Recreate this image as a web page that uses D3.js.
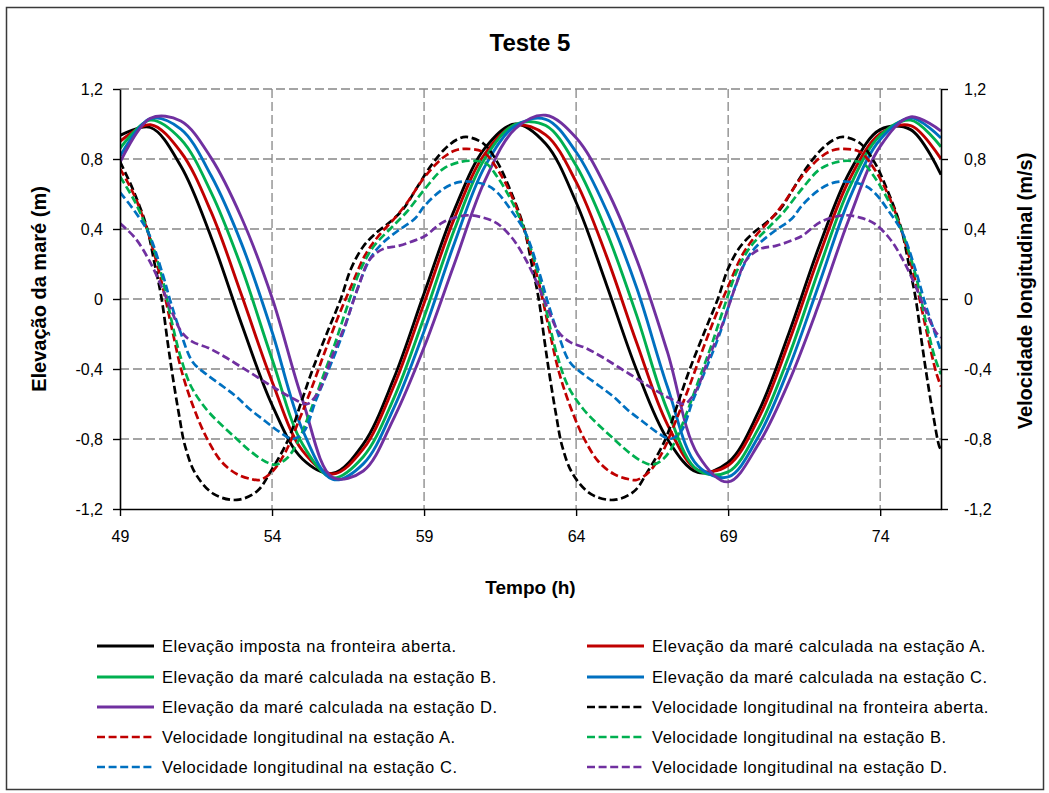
<!DOCTYPE html>
<html>
<head>
<meta charset="utf-8">
<script src="https://cdn.jsdelivr.net/npm/d3@7"></script>
<style>
  body { margin: 0; background: #ffffff; }
  svg text { font-family: "Liberation Sans", Arial, sans-serif; fill: #000; }
</style>
</head>
<body>
<svg id="chart" width="1049" height="793"></svg>
<script>
// ---- Elevação da maré (m), eixo esquerdo: uma leitura por hora ----
const hours = [49,50,51,52,53,54,55,56,57,58,59,60,61,62,63,64,65,66,67,68,69,70,71,72,73,74,75,76];
const elevFronteira = [0.935,0.980,0.760,0.352,-0.144,-0.605,-0.914,-0.996,-0.829,-0.456,0.031,0.511,0.862,1.0,0.887,0.553,0.082,-0.410,-0.800,-0.991,-0.934,-0.644,-0.194,0.304,0.727,0.968,0.968,0.71];
const elevA = [0.90,0.996,0.840,0.496,0.021,-0.471,-0.867,-1.0,-0.857,-0.5,-0.024,0.462,0.830,0.992,0.938,0.669,0.245,-0.254,-0.716,-0.977,-0.951,-0.682,-0.245,0.250,0.687,0.944,0.991,0.80];
const elevB = [0.86,1.022,0.913,0.608,0.178,-0.343,-0.828,-1.022,-0.901,-0.569,-0.104,0.398,0.803,0.998,0.991,0.763,0.384,-0.098,-0.635,-0.978,-0.988,-0.738,-0.324,0.176,0.641,0.934,1.022,0.87];
const elevC = [0.815,1.031,0.971,0.704,0.315,-0.187,-0.747,-1.031,-0.942,-0.625,-0.184,0.320,0.758,0.989,1.027,0.840,0.506,0.060,-0.500,-0.953,-1.017,-0.784,-0.393,0.090,0.578,0.911,1.035,0.92];
const elevD = [0.78,1.033,1.017,0.805,0.463,0.007,-0.576,-1.02,-0.983,-0.683,-0.276,0.203,0.676,0.973,1.05,0.921,0.630,0.221,-0.301,-0.888,-1.045,-0.828,-0.472,-0.022,0.469,0.872,1.041,0.96];

// ---- Velocidade longitudinal (m/s), eixo direito: [tempo (h), valor] ----
const velFronteira = [[49.0,0.785],[49.44,0.62],[49.88,0.41],[50.14,0.2],[50.37,0],[50.57,-0.25],[50.74,-0.45],[50.94,-0.66],[51.14,-0.84],[51.49,-1.0],[52.09,-1.115],[52.84,-1.148],[53.5,-1.10],[53.94,-0.99],[54.54,-0.8],[54.94,-0.6],[55.34,-0.4],[55.84,-0.18],[56.26,0],[56.59,0.17],[57.0,0.3],[57.44,0.38],[57.88,0.44],[58.32,0.515],[58.76,0.635],[59.2,0.755],[59.64,0.85],[60.07,0.91],[60.39,0.926],[60.94,0.89],[61.4,0.785],[61.84,0.62],[62.28,0.41],[62.54,0.2],[62.77,0],[62.97,-0.25],[63.14,-0.45],[63.34,-0.66],[63.54,-0.84],[63.89,-1.0],[64.49,-1.115],[65.24,-1.148],[65.9,-1.10],[66.34,-0.99],[66.94,-0.8],[67.34,-0.6],[67.74,-0.4],[68.24,-0.18],[68.66,0],[68.99,0.17],[69.4,0.3],[69.84,0.38],[70.28,0.44],[70.72,0.515],[71.16,0.635],[71.6,0.755],[72.04,0.85],[72.47,0.91],[72.79,0.926],[73.34,0.89],[73.8,0.785],[74.24,0.62],[74.68,0.41],[74.94,0.2],[75.17,0],[75.37,-0.25],[75.54,-0.45],[75.74,-0.66],[75.94,-0.84],[76.0,-0.86]];
const velA = [[49.0,0.745],[49.49,0.585],[49.94,0.37],[50.39,0.08],[50.72,-0.18],[51.04,-0.42],[51.42,-0.62],[51.84,-0.79],[52.34,-0.93],[52.84,-1.0],[53.34,-1.03],[53.59,-1.034],[53.99,-0.99],[54.44,-0.875],[54.87,-0.70],[55.3,-0.51],[55.74,-0.30],[56.18,-0.10],[56.62,0.08],[57.06,0.25],[57.5,0.36],[58.05,0.465],[58.44,0.55],[59.03,0.70],[59.64,0.81],[60.04,0.85],[60.39,0.858],[60.94,0.84],[61.4,0.745],[61.89,0.585],[62.34,0.37],[62.79,0.08],[63.12,-0.18],[63.44,-0.42],[63.82,-0.62],[64.24,-0.79],[64.74,-0.93],[65.24,-1.0],[65.74,-1.03],[65.99,-1.034],[66.39,-0.99],[66.84,-0.875],[67.27,-0.70],[67.7,-0.51],[68.14,-0.30],[68.58,-0.10],[69.02,0.08],[69.46,0.25],[69.9,0.36],[70.45,0.465],[70.84,0.55],[71.43,0.70],[72.04,0.81],[72.44,0.85],[72.79,0.858],[73.34,0.84],[73.8,0.745],[74.29,0.585],[74.74,0.37],[75.19,0.08],[75.52,-0.18],[75.84,-0.42],[76.0,-0.50]];
const velB = [[49.0,0.70],[49.49,0.556],[49.93,0.38],[50.39,0.12],[50.69,-0.12],[50.99,-0.33],[51.34,-0.50],[51.84,-0.63],[52.34,-0.72],[52.84,-0.80],[53.29,-0.87],[53.79,-0.93],[54.12,-0.947],[54.49,-0.91],[54.84,-0.82],[55.24,-0.65],[55.64,-0.46],[56.04,-0.27],[56.44,-0.06],[56.89,0.16],[57.34,0.30],[57.94,0.41],[58.44,0.50],[59.03,0.63],[59.64,0.745],[60.24,0.785],[60.68,0.789],[61.04,0.775],[61.4,0.70],[61.89,0.556],[62.33,0.38],[62.79,0.12],[63.09,-0.12],[63.39,-0.33],[63.74,-0.50],[64.24,-0.63],[64.74,-0.72],[65.24,-0.80],[65.69,-0.87],[66.19,-0.93],[66.52,-0.947],[66.89,-0.91],[67.24,-0.82],[67.64,-0.65],[68.04,-0.46],[68.44,-0.27],[68.84,-0.06],[69.29,0.16],[69.74,0.30],[70.34,0.41],[70.84,0.50],[71.43,0.63],[72.04,0.745],[72.64,0.785],[73.08,0.789],[73.44,0.775],[73.8,0.70],[74.29,0.556],[74.73,0.38],[75.19,0.12],[75.49,-0.12],[75.79,-0.33],[76.0,-0.43]];
const velC = [[49.0,0.61],[49.49,0.50],[49.93,0.38],[50.39,0.15],[50.67,-0.02],[50.99,-0.19],[51.39,-0.36],[51.84,-0.43],[52.39,-0.50],[52.84,-0.56],[53.27,-0.63],[53.79,-0.70],[54.29,-0.765],[54.69,-0.80],[55.04,-0.76],[55.44,-0.58],[55.87,-0.40],[56.31,-0.205],[56.79,0.05],[57.24,0.235],[57.64,0.32],[58.14,0.39],[58.7,0.46],[59.03,0.535],[59.64,0.63],[60.14,0.668],[60.54,0.67],[61.04,0.652],[61.4,0.61],[61.89,0.50],[62.33,0.38],[62.79,0.15],[63.07,-0.02],[63.39,-0.19],[63.79,-0.36],[64.24,-0.43],[64.79,-0.50],[65.24,-0.56],[65.67,-0.63],[66.19,-0.70],[66.69,-0.765],[67.09,-0.80],[67.44,-0.76],[67.84,-0.58],[68.27,-0.40],[68.71,-0.205],[69.19,0.05],[69.64,0.235],[70.04,0.32],[70.54,0.39],[71.1,0.46],[71.43,0.535],[72.04,0.63],[72.54,0.668],[72.94,0.67],[73.44,0.652],[73.8,0.61],[74.29,0.50],[74.73,0.38],[75.19,0.15],[75.47,-0.02],[75.79,-0.19],[76.0,-0.30]];
const velD = [[49.0,0.432],[49.49,0.35],[49.93,0.23],[50.37,0.07],[50.7,-0.07],[51.03,-0.19],[51.39,-0.245],[51.91,-0.28],[52.44,-0.33],[53.0,-0.39],[53.55,-0.45],[54.1,-0.51],[54.65,-0.565],[55.16,-0.60],[55.41,-0.56],[55.64,-0.49],[55.94,-0.345],[56.4,-0.15],[56.84,0.07],[57.19,0.22],[57.64,0.285],[58.19,0.305],[58.7,0.335],[59.03,0.36],[59.64,0.44],[60.39,0.478],[60.94,0.465],[61.4,0.432],[61.89,0.35],[62.33,0.23],[62.77,0.07],[63.1,-0.07],[63.43,-0.19],[63.79,-0.245],[64.31,-0.28],[64.84,-0.33],[65.4,-0.39],[65.95,-0.45],[66.5,-0.51],[67.05,-0.565],[67.56,-0.60],[67.81,-0.56],[68.04,-0.49],[68.34,-0.345],[68.8,-0.15],[69.24,0.07],[69.59,0.22],[70.04,0.285],[70.59,0.305],[71.1,0.335],[71.43,0.36],[72.04,0.44],[72.79,0.478],[73.34,0.465],[73.8,0.432],[74.29,0.35],[74.73,0.23],[75.17,0.07],[75.5,-0.07],[75.83,-0.19],[76.0,-0.22]];

// Axis ticks
const hourTicks = [49, 54, 59, 64, 69, 74];
const valueTicks = [-1.2, -0.8, -0.4, 0, 0.4, 0.8, 1.2];

const pairUp = vals => hours.map((h, i) => [h, vals[i]]);

// Series styling and legend text
const series = [
  { data: pairUp(elevFronteira), color: "#000000", dashed: false, label: "Elevação imposta na fronteira aberta." },
  { data: pairUp(elevA), color: "#C00000", dashed: false, label: "Elevação da maré calculada na estação A." },
  { data: pairUp(elevB), color: "#00B050", dashed: false, label: "Elevação da maré calculada na estação B." },
  { data: pairUp(elevC), color: "#0070C0", dashed: false, label: "Elevação da maré calculada na estação C." },
  { data: pairUp(elevD), color: "#7030A0", dashed: false, label: "Elevação da maré calculada na estação D." },
  { data: velFronteira, color: "#000000", dashed: true, label: "Velocidade longitudinal na fronteira aberta." },
  { data: velA, color: "#C00000", dashed: true, label: "Velocidade longitudinal na estação A." },
  { data: velB, color: "#00B050", dashed: true, label: "Velocidade longitudinal na estação B." },
  { data: velC, color: "#0070C0", dashed: true, label: "Velocidade longitudinal na estação C." },
  { data: velD, color: "#7030A0", dashed: true, label: "Velocidade longitudinal na estação D." }
];

const svg = d3.select("#chart");
const plot = { left: 120, right: 941, top: 89, bottom: 509 };

const x = d3.scaleLinear().domain([49, 76]).range([plot.left, plot.right]);
const yLeft = d3.scaleLinear().domain([-1.2, 1.2]).range([plot.bottom, plot.top]);
const yRight = d3.scaleLinear().domain([-1.2, 1.2]).range([plot.bottom, plot.top]);

const ptLocale = d3.formatLocale({ decimal: ",", thousands: ".", grouping: [3], currency: ["", ""], minus: "-" });
const fmt1 = ptLocale.format(".1f");
const valueFormat = d => (Math.abs(d) < 1e-9 ? "0" : fmt1(d));

// Outer frame
svg.append("rect")
  .attr("x", 6.5).attr("y", 7.5).attr("width", 1037).attr("height", 782)
  .attr("fill", "#fff").attr("stroke", "#3a3a3a").attr("stroke-width", 1.5);

// Title
svg.append("text")
  .attr("x", 530).attr("y", 51)
  .attr("text-anchor", "middle")
  .attr("font-size", 24).attr("font-weight", "bold")
  .text("Teste 5");

// Grid
const grid = svg.append("g").attr("stroke", "#868686").attr("stroke-width", 1.3).attr("stroke-dasharray", "9,4");
grid.selectAll("line.h").data(valueTicks.filter(v => v > -1.2)).join("line")
  .attr("x1", plot.left).attr("x2", plot.right)
  .attr("y1", d => yLeft(d)).attr("y2", d => yLeft(d));
grid.selectAll("line.v").data(hourTicks.filter(h => h > 49)).join("line")
  .attr("y1", plot.top).attr("y2", plot.bottom)
  .attr("x1", d => x(d)).attr("x2", d => x(d));

// Series
svg.append("clipPath").attr("id", "plotClip").append("rect")
  .attr("x", plot.left).attr("y", plot.top - 10)
  .attr("width", plot.right - plot.left).attr("height", plot.bottom - plot.top + 20);

const smooth = d3.curveCatmullRom.alpha(0.5);
const lineLeft = d3.line().x(d => x(d[0])).y(d => yLeft(d[1])).curve(smooth);
const lineRight = d3.line().x(d => x(d[0])).y(d => yRight(d[1])).curve(smooth);

const seriesG = svg.append("g").attr("clip-path", "url(#plotClip)");
series.forEach(s => {
  seriesG.append("path")
    .attr("d", s.dashed ? lineRight(s.data) : lineLeft(s.data))
    .attr("fill", "none")
    .attr("stroke", s.color)
    .attr("stroke-width", s.dashed ? 2.7 : 2.9)
    .attr("stroke-dasharray", s.dashed ? "8,3.6" : null)
    .attr("stroke-linejoin", "round");
});

// Axes
function styleAxis(g) {
  g.selectAll(".domain").attr("stroke", "#000").attr("stroke-width", 1.6);
  g.selectAll(".tick line").attr("stroke", "#000").attr("stroke-width", 1.4);
  g.selectAll(".tick text").attr("font-size", 16).attr("font-family", "'Liberation Sans', Arial, sans-serif").attr("fill", "#000");
}

svg.append("g")
  .attr("transform", `translate(${plot.left},0)`)
  .call(d3.axisLeft(yLeft).tickValues(valueTicks).tickFormat(valueFormat).tickSize(7).tickSizeOuter(0).tickPadding(10))
  .call(styleAxis);

svg.append("g")
  .attr("transform", `translate(${plot.right},0)`)
  .call(d3.axisRight(yRight).tickValues(valueTicks).tickFormat(valueFormat).tickSize(7).tickSizeOuter(0).tickPadding(16))
  .call(styleAxis);

svg.append("g")
  .attr("transform", `translate(0,${plot.bottom})`)
  .call(d3.axisBottom(x).tickValues(hourTicks).tickFormat(d3.format("d")).tickSize(7).tickSizeOuter(0).tickPadding(15))
  .call(styleAxis);

// Axis titles
svg.append("text")
  .attr("transform", `translate(46,${(plot.top + plot.bottom) / 2 - 10}) rotate(-90)`)
  .attr("text-anchor", "middle")
  .attr("font-size", 20).attr("font-weight", "bold")
  .text("Elevação  da maré (m)");

svg.append("text")
  .attr("transform", `translate(1032,${(plot.top + plot.bottom) / 2 - 8}) rotate(-90)`)
  .attr("text-anchor", "middle")
  .attr("font-size", 20).attr("font-weight", "bold")
  .text("Velocidade longitudinal (m/s)");

svg.append("text")
  .attr("x", (plot.left + plot.right) / 2).attr("y", 594)
  .attr("text-anchor", "middle")
  .attr("font-size", 19).attr("font-weight", "bold")
  .text("Tempo (h)");

// Legend (two columns, row-major order)
const legendCols = [97, 587];
const legendRows = [646, 677, 707, 737, 767];
const legend = svg.append("g");
series.forEach((s, i) => {
  const cx = legendCols[i % 2];
  const cy = legendRows[Math.floor(i / 2)];
  legend.append("line")
    .attr("x1", cx).attr("x2", cx + 57).attr("y1", cy).attr("y2", cy)
    .attr("stroke", s.color).attr("stroke-width", s.dashed ? 2.7 : 2.9)
    .attr("stroke-dasharray", s.dashed ? "8,3.6" : null);
  legend.append("text")
    .attr("x", cx + 65).attr("y", cy)
    .attr("dy", "0.35em")
    .attr("font-size", 16.5)
    .attr("letter-spacing", "0.55px")
    .text(s.label);
});
</script>
</body>
</html>
